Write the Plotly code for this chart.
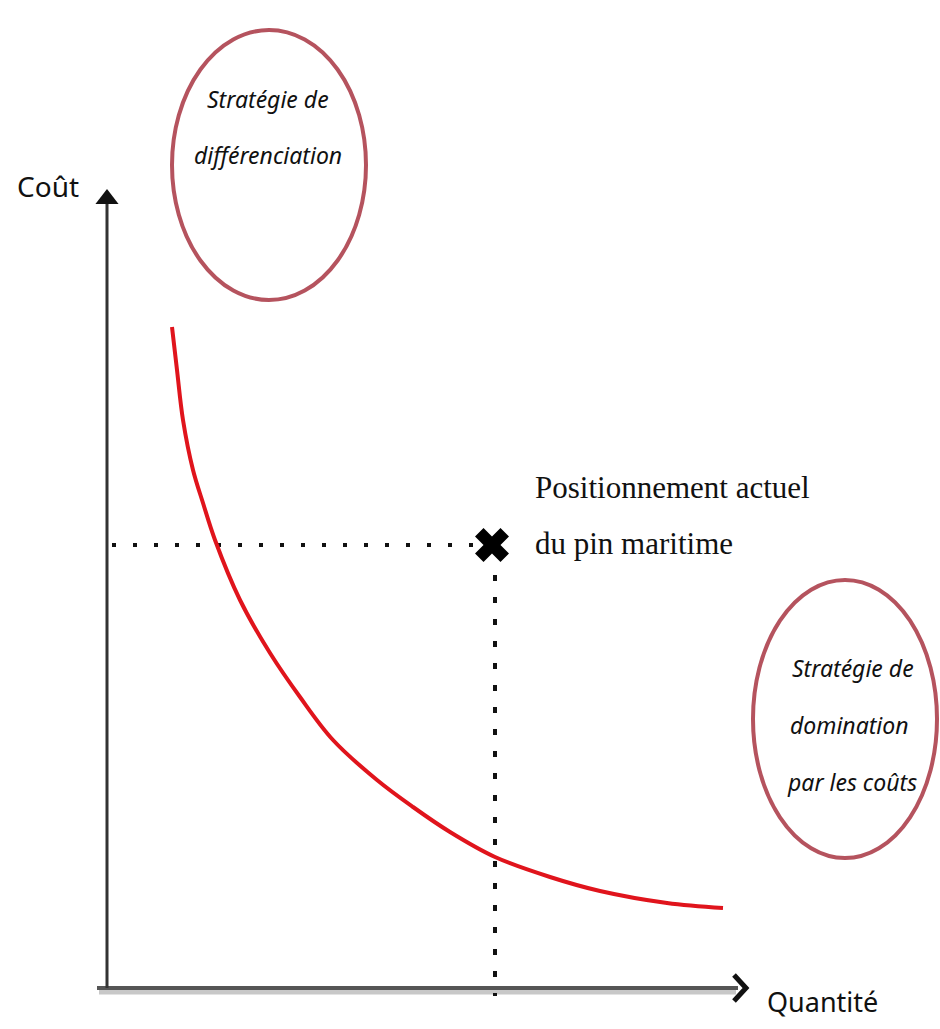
import plotly.graph_objects as go

W, H = 940, 1029

# Conceptual cost curve (pixel-like units; y grows downward)
curve_x = [172, 177, 183, 193, 203, 215, 240, 270, 300, 333, 377, 413, 450, 495, 550, 600, 667, 723]
curve_y = [327, 370, 420, 470, 503, 540, 600, 653, 697, 740, 780, 807, 832, 857, 877, 891, 903, 908]

# Current position of maritime pine
pos_x = [492]
pos_y = [545]

# Axes geometry
origin = (107, 988)
y_axis_top = 183
x_axis_end = 738

# Circles: (x0, y0, x1, y1)
circle1 = (172, 30, 366, 300)
circle2 = (753, 580, 937, 858)

FONT_SANS = "Noto Sans, DejaVu Sans, sans-serif"
FONT_SERIF = "Liberation Serif, DejaVu Serif, serif"

fig = go.Figure()

# axis shadow
fig.add_trace(go.Scatter(x=[origin[0] - 8, x_axis_end - 2], y=[origin[1] + 4, origin[1] + 4],
                         mode="lines", line=dict(color="#c8c8c8", width=5), hoverinfo="skip"))
# x axis
fig.add_trace(go.Scatter(x=[origin[0] - 10, x_axis_end], y=[origin[1], origin[1]],
                         mode="lines", line=dict(color="#555555", width=4), hoverinfo="skip"))
# x arrow chevron
fig.add_trace(go.Scatter(x=[x_axis_end - 4, x_axis_end + 8, x_axis_end - 4],
                         y=[origin[1] - 13, origin[1], origin[1] + 13],
                         mode="lines", line=dict(color="#111111", width=5), hoverinfo="skip"))
# y axis
fig.add_trace(go.Scatter(x=[origin[0], origin[0]], y=[origin[1], y_axis_top + 20],
                         mode="lines", line=dict(color="#333333", width=3), hoverinfo="skip"))
# y arrowhead
fig.add_trace(go.Scatter(x=[origin[0]], y=[y_axis_top + 16], mode="markers",
                         marker=dict(symbol="triangle-up", size=20, color="#111111"), hoverinfo="skip"))

# dotted guides
fig.add_trace(go.Scatter(x=[112, pos_x[0] - 10], y=[pos_y[0], pos_y[0]], mode="lines",
                         line=dict(color="#111111", width=4, dash="4px,17px"), hoverinfo="skip"))
fig.add_trace(go.Scatter(x=[pos_x[0] + 3, pos_x[0] + 3], y=[pos_y[0] + 30, origin[1] + 8], mode="lines",
                         line=dict(color="#111111", width=4, dash="6px,16px"), hoverinfo="skip"))

# red curve
fig.add_trace(go.Scatter(x=curve_x, y=curve_y, mode="lines",
                         line=dict(color="#e0141c", width=4, shape="spline", smoothing=1.0),
                         hoverinfo="skip"))

# X marker
fig.add_trace(go.Scatter(x=pos_x, y=pos_y, mode="markers",
                         marker=dict(symbol="x", size=30, color="#000000",
                                     line=dict(width=0)), hoverinfo="skip"))

# circles
for c in (circle1, circle2):
    fig.add_shape(type="circle", xref="x", yref="y", x0=c[0], y0=c[1], x1=c[2], y1=c[3],
                  line=dict(color="#b5535e", width=4))

ann = [
    dict(x=48, y=186, text="Coût", font=dict(size=28, family=FONT_SANS, color="#111")),
    dict(x=822, y=1001, text="Quantité", font=dict(size=27, family=FONT_SANS, color="#111")),
    dict(x=533, y=487, text="Positionnement actuel", xanchor="left",
         font=dict(size=31, family=FONT_SERIF, color="#111")),
    dict(x=533, y=543, text="du pin maritime", xanchor="left",
         font=dict(size=31, family=FONT_SERIF, color="#111")),
    dict(x=268, y=99, text="<i>Stratégie de</i>", font=dict(size=23, family=FONT_SANS, color="#111")),
    dict(x=268, y=155, text="<i>différenciation</i>", font=dict(size=23, family=FONT_SANS, color="#111")),
    dict(x=853, y=668, text="<i>Stratégie de</i>", font=dict(size=23, family=FONT_SANS, color="#111")),
    dict(x=849, y=725, text="<i>domination</i>", font=dict(size=23, family=FONT_SANS, color="#111")),
    dict(x=852, y=782, text="<i>par les coûts</i>", font=dict(size=23, family=FONT_SANS, color="#111")),
]
for a in ann:
    a.update(xref="x", yref="y", showarrow=False)
    a.setdefault("xanchor", "center")
    a.setdefault("yanchor", "middle")
    fig.add_annotation(**a)

fig.update_layout(
    width=W, height=H,
    margin=dict(l=0, r=0, t=0, b=0),
    paper_bgcolor="white", plot_bgcolor="white",
    showlegend=False,
    xaxis=dict(range=[0, W], visible=False, fixedrange=True),
    yaxis=dict(range=[H, 0], visible=False, fixedrange=True),
)

fig.write_html("out.html", config={"displayModeBar": False},
               post_script="document.body.style.margin='0';document.body.style.overflow='hidden';")
